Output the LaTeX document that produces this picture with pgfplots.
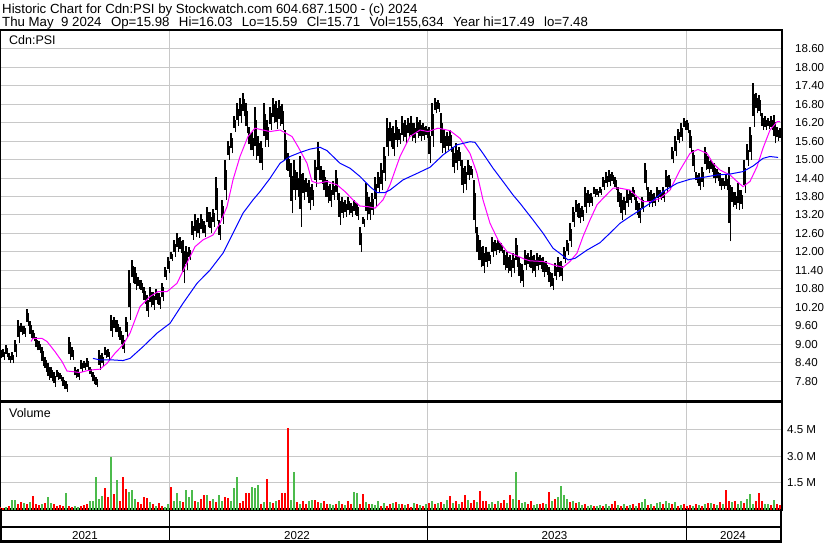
\documentclass[border=0pt]{standalone}
\usepackage{pgfplots}
\pgfplotsset{compat=1.18}
\usepackage{pgfplotstable}
\usepackage{fontspec}
\setmainfont{Liberation Sans}
\definecolor{gridgray}{RGB}{200,200,200}
\definecolor{volgreen}{RGB}{76,187,76}
\definecolor{volred}{RGB}{255,0,0}
\definecolor{maMag}{RGB}{255,0,255}
\definecolor{maBlue}{RGB}{0,0,255}

\pgfplotstableread{
x hi lo
0 8.92 8.55
3 8.85 8.49
6 8.98 8.60
9 8.71 8.40
12 8.75 8.38
15 9.14 8.60
18 9.79 9.05
21 9.68 9.30
24 9.60 9.25
27 10.14 9.60
30 9.75 9.20
33 9.45 9.09
36 9.25 8.80
39 9.10 8.71
42 8.92 8.30
45 8.60 8.10
48 8.40 7.84
51 8.27 7.80
54 8.10 7.62
57 8.17 7.85
60 8.05 7.79
63 7.95 7.55
66 7.80 7.46
69 9.25 8.49
72 8.92 8.49
75 8.27 7.90
78 8.20 7.84
81 8.49 8.11
84 8.45 8.15
87 8.54 8.17
90 8.27 7.95
93 8.10 7.70
96 7.95 7.60
99 8.82 8.17
102 8.70 8.30
105 8.92 8.55
108 8.85 8.49
111 9.95 9.25
114 9.90 9.40
117 9.80 9.25
120 9.57 9.00
123 9.30 8.71
126 9.90 9.25
129 11.41 9.79
132 11.74 11.00
135 11.50 10.76
138 11.20 10.80
141 11.10 10.66
144 10.87 10.30
147 10.60 9.90
150 10.87 10.20
153 10.70 10.12
156 10.80 10.30
159 10.65 10.15
162 11.00 10.40
165 11.52 11.09
168 11.85 11.31
171 12.00 11.70
174 12.39 11.85
177 12.61 12.00
180 12.50 11.96
183 12.39 10.98
186 12.20 11.40
189 12.17 11.74
192 13.00 12.39
195 13.22 12.50
198 13.10 12.45
201 13.22 12.60
204 13.00 12.50
207 13.47 12.80
210 13.30 12.61
213 13.40 12.82
216 14.45 13.00
219 13.04 12.39
222 13.70 12.90
225 14.99 13.69
228 15.60 14.99
231 15.85 15.20
234 16.40 15.90
237 16.83 16.10
240 17.00 16.20
243 17.15 16.40
246 16.83 15.85
249 16.07 15.30
252 15.90 15.10
255 16.72 15.00
258 15.75 14.90
261 15.60 14.66
264 16.83 15.42
267 16.29 15.42
270 16.70 15.96
273 16.99 16.20
276 16.90 16.00
279 16.95 16.10
282 16.80 15.96
285 15.96 14.66
288 15.20 14.45
291 14.88 13.25
294 14.99 13.69
297 14.60 13.80
300 15.10 12.82
303 14.55 13.69
306 14.40 13.80
309 14.34 13.36
312 14.20 13.50
315 14.99 14.12
318 15.58 14.34
321 14.80 14.20
324 14.66 13.80
327 14.34 13.60
330 14.20 13.47
333 14.30 13.70
336 14.66 13.69
339 13.91 12.88
342 13.80 13.10
345 13.70 13.15
348 13.80 13.20
351 13.60 13.15
354 13.70 13.20
357 13.58 13.04
360 12.82 12.01
363 13.15 12.82
366 14.23 13.04
369 13.80 13.04
372 13.90 13.20
375 14.45 13.47
378 14.60 13.91
381 14.88 14.00
384 15.40 14.30
387 16.34 15.10
390 16.23 15.40
393 16.10 15.10
396 16.29 15.42
399 16.00 15.50
402 16.40 15.60
405 16.30 15.53
408 16.35 15.70
411 16.40 15.60
414 16.20 15.53
417 16.38 15.70
420 16.30 15.60
423 16.18 15.64
426 16.10 15.70
429 16.07 14.88
432 16.83 15.42
435 16.99 16.50
438 16.95 16.55
441 16.50 15.20
444 15.96 15.20
447 15.90 15.30
450 15.96 15.25
453 15.42 14.55
456 15.53 14.66
459 15.40 14.80
462 14.99 13.91
465 14.80 14.00
468 14.99 14.34
471 14.80 14.40
474 14.34 12.61
477 12.82 11.74
480 12.39 11.50
483 12.20 11.31
486 12.17 11.52
489 12.00 11.60
492 12.50 11.85
495 12.40 11.90
498 12.39 11.96
501 12.30 11.96
504 12.06 11.41
507 12.01 11.30
510 11.90 11.20
513 11.95 11.30
516 12.44 11.52
519 11.85 11.00
522 11.60 10.87
525 12.06 11.41
528 11.95 11.50
531 12.06 11.30
534 11.90 11.20
537 11.96 11.41
540 11.90 11.45
543 11.85 11.20
546 11.70 11.25
549 11.52 10.85
552 11.30 10.76
555 11.63 11.09
558 11.85 11.20
561 11.70 11.04
564 12.17 11.63
567 12.40 11.90
570 12.93 12.17
573 13.47 12.82
576 13.69 13.15
579 13.58 12.93
582 13.50 13.00
585 14.12 13.25
588 14.01 13.47
591 13.90 13.50
594 14.12 13.80
597 14.05 13.80
600 14.10 13.85
603 14.45 14.01
606 14.60 14.12
609 14.66 14.15
612 14.60 14.20
615 14.45 14.01
618 14.12 13.47
621 13.91 13.04
624 13.80 13.20
627 14.01 13.47
630 14.00 13.60
633 14.12 13.69
636 13.80 13.20
639 13.60 12.93
642 13.80 13.30
645 14.88 14.01
648 14.12 13.47
651 14.01 13.47
654 13.90 13.50
657 14.12 13.63
660 14.00 13.70
663 14.10 13.63
666 14.66 13.91
669 14.50 14.00
672 15.42 14.88
675 15.75 15.10
678 16.00 15.53
681 16.18 15.60
684 16.34 15.96
687 16.29 15.85
690 15.96 15.20
693 15.31 14.60
696 14.60 14.23
699 14.55 14.01
702 14.77 14.12
705 15.42 14.66
708 15.10 14.55
711 15.00 14.60
714 14.88 14.23
717 14.70 14.30
720 14.55 14.01
723 14.40 14.05
726 14.50 14.01
729 14.77 12.34
732 14.12 13.47
735 13.95 13.40
738 14.23 13.36
741 14.00 13.40
744 14.99 13.91
747 15.50 14.80
750 16.07 14.99
753 17.49 16.07
756 17.15 16.50
759 17.10 16.40
762 16.50 15.96
765 16.40 15.96
768 16.35 16.00
771 16.40 15.96
774 16.45 15.53
777 16.07 15.60
780 16.03 15.59
}\pricetable

\begin{document}
\begin{tikzpicture}
\useasboundingbox (0bp,0bp) rectangle (830bp,543bp);
% ---------- price panel ----------
\begin{axis}[
  at={(0bp,141.5bp)}, anchor=south west,
  scale only axis, width=782bp, height=371.5bp,
  xmin=0, xmax=782, ymin=7.14, ymax=19.21,
  axis line style={line width=2bp},
  xtick={169,427,686}, xticklabels={},
  ytick={7.8,8.4,9.0,9.6,10.2,10.8,11.4,12.0,12.6,13.2,13.8,14.4,15.0,15.6,16.2,16.8,17.4,18.0,18.6},
  xmajorgrids, ymajorgrids,
  grid style={gridgray, line width=1bp},
  major tick length=0pt,
  yticklabel pos=right,
  yticklabel style={anchor=west, inner sep=0pt, xshift=13bp, font=\fontsize{11.6}{12}\selectfont},
  /pgf/number format/.cd, fixed, fixed zerofill, precision=2, assume math mode=true,
]
% daily bars: each sampled bar drawn as two thin strokes (upper part, lower part)
\addplot[draw=none, mark=none, forget plot,
  error bars/.cd, y dir=plus, y explicit, error mark=none,
  error bar style={draw=black, line width=1.9bp, line cap=butt}]
  table[x=x, y expr=\thisrow{lo}+0.25*(\thisrow{hi}-\thisrow{lo}), y error expr=0.75*(\thisrow{hi}-\thisrow{lo})] {\pricetable};
\addplot[draw=none, mark=none, forget plot,
  error bars/.cd, y dir=plus, y explicit, error mark=none,
  error bar style={draw=black, line width=1.9bp, line cap=butt}]
  table[x expr=\thisrow{x}+1.5, y=lo, y error expr=0.75*(\thisrow{hi}-\thisrow{lo})] {\pricetable};
\addplot[maMag, line width=1bp] coordinates {
(31,9.09) (33,9.19) (42,9.19) (47,9.09) (55,8.76) (62,8.44) (67,8.13) (73,8.11) (80,8.08) (87,8.14) (93,8.17) (100,8.19) (107,8.38) (115,8.71) (123,8.98) (128,9.25)
(130,9.36) (140,10.22) (150,10.55) (158,10.71) (167,10.71) (177,10.98) (185,11.52) (195,12.17) (203,12.39) (213,12.55) (220,12.93) (227,13.47) (233,14.34) (240,15.10) (248,15.75) (255,16.02) (263,15.96)
(270,15.91) (280,15.96) (292,15.75) (298,15.42) (307,14.88) (312,14.29) (318,14.23) (327,14.29) (337,14.18) (345,13.96) (353,13.69) (360,13.49) (368,13.47) (375,13.42) (383,13.69) (390,14.18)
(400,15.10) (410,15.75) (420,15.96) (428,15.91) (438,16.02) (450,15.94) (460,15.69) (470,15.20) (477,14.55) (483,13.69) (490,12.93) (498,12.39) (507,12.01) (517,11.87) (525,11.76)
(530,11.71) (543,11.69) (553,11.58) (563,11.50) (570,11.69) (577,11.96) (583,12.50) (590,13.04) (597,13.53) (603,13.74) (613,14.07) (620,14.07) (630,14.01) (637,13.80) (643,13.63) (650,13.63)
(660,13.74) (670,14.01) (680,14.66) (690,15.20) (698,15.33) (707,15.20) (713,14.88) (720,14.66) (730,14.50) (737,14.29) (743,14.12) (750,14.29) (757,14.77) (763,15.37) (770,15.96) (777,16.23) (780,16.23)
};
\addplot[maBlue, line width=1bp] coordinates {
(93,8.54) (100,8.49) (113,8.49) (123,8.47) (130,8.54) (143,8.92) (157,9.36) (170,9.68) (183,10.33) (197,10.98) (210,11.41) (223,11.96) (233,12.61) (243,13.26) (253,13.69) (260,13.96)
(270,14.39) (280,14.88) (290,15.10) (300,15.23) (310,15.34) (320,15.40) (327,15.29) (340,14.88) (350,14.72) (360,14.45) (370,14.12) (377,13.93) (385,13.93) (390,14.01)
(403,14.34) (417,14.55) (430,14.75) (443,15.15) (457,15.48) (470,15.58) (475,15.56) (483,15.20) (493,14.72) (503,14.29) (513,13.85) (520,13.58) (533,13.04) (543,12.61) (553,12.12) (562,11.90) (568,11.74) (575,11.79)
(587,12.06) (600,12.30) (610,12.61) (620,12.93) (630,13.15) (640,13.36) (650,13.58) (663,13.96) (677,14.23) (690,14.36) (703,14.42) (717,14.50) (730,14.53) (743,14.61) (753,14.79) (763,15.04) (770,15.10) (778,15.07)
};
\end{axis}
% ---------- volume panel ----------
\begin{axis}[
  at={(0bp,33.5bp)}, anchor=south west,
  scale only axis, width=782bp, height=108bp,
  xmin=0, xmax=782, ymin=0, ymax=6.07,
  axis line style={line width=2bp},
  xtick={169,427,686}, xticklabels={},
  ytick={1.5,3.0,4.5}, yticklabels={1.5 M,3.0 M,4.5 M},
  xmajorgrids, ymajorgrids,
  grid style={gridgray, line width=1bp},
  major tick length=0pt,
  yticklabel pos=right,
  yticklabel style={anchor=west, inner sep=0pt, xshift=5bp, font=\fontsize{11.6}{12}\selectfont},
]
\addplot[ycomb, volgreen, line width=2.8bp] coordinates {
(6,0.12) (12,0.55) (15,0.55) (24,0.35) (30,0.4) (42,0.3) (48,0.7) (51,0.35) (66,0.9) (75,0.2) (78,0.15) (90,0.5) (93,0.5) (96,1.8) (99,0.6) (102,0.75) (111,2.95) (117,1.65) (129,1.0) (132,1.1) (135,0.6) (150,0.4) (156,0.2) (165,0.15) (168,0.3) (174,0.5) (177,0.9) (180,0.5) (186,1.1) (189,0.7) (192,1.1) (198,0.4) (207,0.8) (213,0.6) (219,0.8) (222,0.5) (231,0.5) (234,1.2) (237,1.85) (252,1.25) (255,1.2) (258,1.35) (264,0.4) (270,0.4) (276,0.5) (291,0.55) (294,2.13) (300,0.3) (309,0.5) (312,0.55) (321,0.35) (330,0.3) (333,0.25) (339,0.5) (345,0.25) (354,1.0) (357,0.9) (366,0.4) (372,0.3) (375,0.25) (378,0.5) (384,0.35) (393,0.35) (399,0.3) (405,0.25) (414,0.35)
(420,0.25) (426,0.3) (432,0.45) (438,0.35) (444,0.3) (447,0.55) (453,0.35) (459,0.3) (468,0.55) (477,0.4) (489,0.3) (492,0.4) (498,0.45) (507,0.35) (513,0.6) (516,2.1) (522,0.35) (525,0.4) (534,0.25) (537,0.3) (546,0.3) (552,0.5) (558,0.7) (561,1.3) (564,0.8) (567,0.6) (573,0.5) (579,0.4) (582,0.25) (588,0.2) (591,0.25) (597,0.2) (600,0.25) (606,0.3) (609,0.2) (618,0.25) (624,0.3) (630,0.25) (636,0.2) (642,0.4) (645,0.6) (651,0.3) (657,0.35) (660,0.4) (666,0.45) (669,0.35) (675,0.4) (681,0.25) (693,0.2) (699,0.25) (705,0.3) (711,0.35) (717,0.25) (723,0.3) (732,0.4) (738,0.3) (741,0.5) (747,0.6) (750,0.85) (753,0.3) (765,0.3) (768,0.3) (774,0.55)
};
\addplot[ycomb, volred, line width=2.8bp] coordinates {
(0,0.15) (3,0.1) (9,0.2) (18,0.3) (21,0.4) (27,0.3) (33,0.75) (36,0.3) (39,0.25) (45,0.35) (54,0.3) (57,0.2) (60,0.25) (63,0.2) (69,0.2) (72,0.15) (81,0.2) (84,0.25) (87,0.3) (105,1.2) (108,0.7) (114,0.85) (120,0.45) (123,1.8) (126,1.15) (138,0.4) (141,0.3) (144,0.7) (147,0.65) (153,0.3) (159,0.35) (162,0.2) (171,1.25) (183,0.4) (195,0.5) (201,0.6) (204,0.8) (210,0.5) (216,0.4) (225,0.7) (228,0.65) (240,0.35) (243,0.5) (246,0.9) (249,0.95) (261,0.3) (267,1.7) (273,0.35) (279,0.55) (282,0.9) (285,0.9) (288,4.6) (297,0.4) (303,0.5) (306,0.3) (315,0.55) (318,0.4) (324,0.5) (327,0.3) (336,0.3) (342,0.3) (348,0.45) (351,0.3) (360,0.3) (363,0.85) (369,0.3) (381,0.2) (387,0.2) (390,0.3) (396,0.4) (402,0.3) (408,0.3) (411,0.15)
(417,0.3) (423,0.2) (429,0.35) (435,0.3) (441,0.4) (450,0.75) (456,0.5) (462,0.4) (465,0.8) (471,0.35) (474,0.55) (480,1.05) (483,0.45) (486,0.5) (495,0.3) (501,0.35) (504,0.55) (510,0.8) (519,0.55) (528,0.3) (531,0.5) (540,0.3) (543,0.35) (549,1.0) (555,0.6) (570,0.4) (576,0.35) (585,0.3) (594,0.2) (603,0.2) (612,0.3) (615,0.45) (621,0.2) (627,0.2) (633,0.3) (639,0.35) (648,0.25) (654,0.2) (663,0.3) (672,0.3) (678,0.2) (684,0.3) (687,0.2) (690,0.25) (696,0.3) (702,0.2) (708,0.35) (714,0.3) (720,0.4) (726,1.1) (729,0.5) (735,0.45) (744,0.35) (756,0.5) (759,0.9) (762,0.45) (771,0.25) (777,0.3) (780,0.25)
};
\end{axis}
% ---------- date band ----------
\draw[line width=2bp] (0bp,16bp) -- (782bp,16bp);
\draw[line width=2bp] (0bp,1.5bp) -- (782bp,1.5bp);
\draw[line width=2bp] (1bp,1.5bp) -- (1bp,33.5bp);
\draw[line width=2bp] (781bp,1.5bp) -- (781bp,33.5bp);
\foreach \xx in {169,427,686} {\draw[line width=1bp] (\xx bp,1.5bp) -- (\xx bp,33.5bp);}
\foreach \xx/\yy in {85/2021,297/2022,554.5/2023,733/2024} {
  \node[anchor=base, inner sep=0pt, font=\fontsize{11.6}{12}\selectfont] at (\xx bp,3.7bp) {\yy};}
% ---------- texts ----------
\node[anchor=base west, inner sep=0pt, font=\fontsize{13.3}{13}\selectfont] at (2bp,529.7bp)
  {Historic Chart for Cdn:PSI by Stockwatch.com 604.687.1500 - (c) 2024};
\node[anchor=base west, inner sep=0pt, font=\fontsize{13.3}{13}\selectfont] at (2bp,516.3bp)
  {Thu May\ \ 9 2024\hspace{9.4bp}Op=15.98\hspace{9.4bp}Hi=16.03\hspace{9.4bp}Lo=15.59\hspace{9.4bp}Cl=15.71\hspace{9.4bp}Vol=155,634\hspace{9.4bp}Year hi=17.49\hspace{9.4bp}lo=7.48};
\node[anchor=base west, inner sep=0pt, font=\fontsize{12.5}{13}\selectfont] at (9bp,498bp) {Cdn:PSI};
\node[anchor=base west, inner sep=0pt, font=\fontsize{12.5}{13}\selectfont] at (9bp,125.5bp) {Volume};
\end{tikzpicture}
\end{document}
